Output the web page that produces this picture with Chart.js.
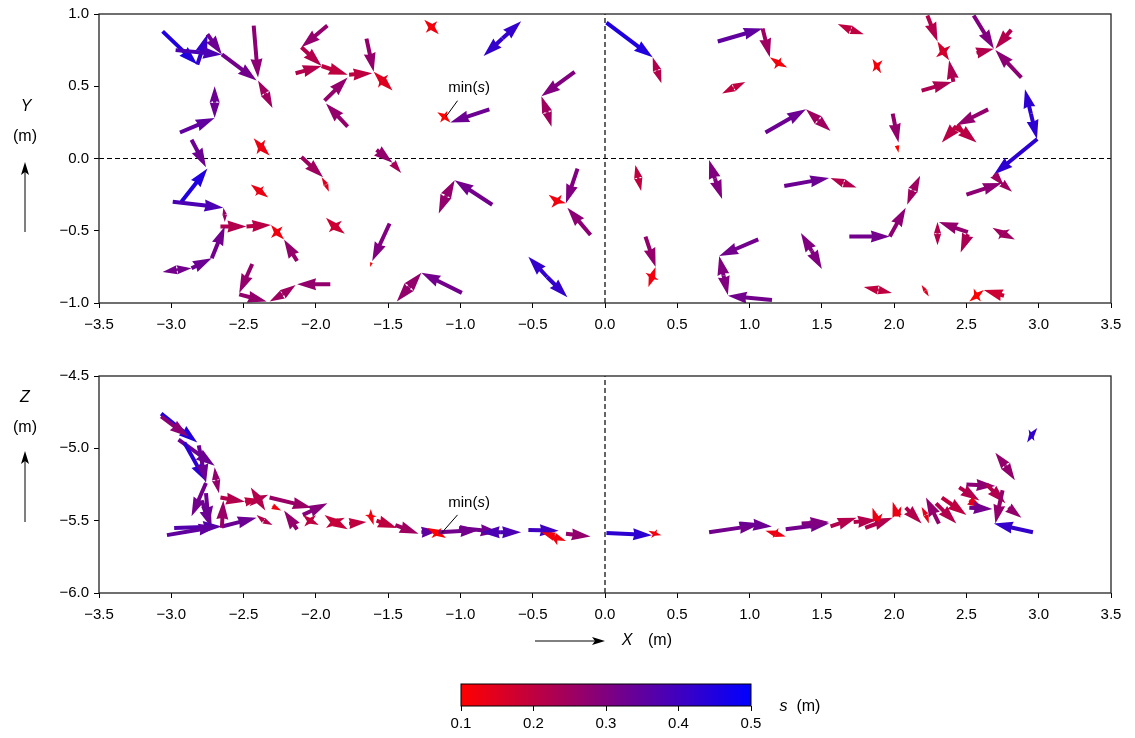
<!DOCTYPE html>
<html>
<head>
<meta charset="utf-8">
<script src="https://cdn.jsdelivr.net/npm/chart.js@4.4.1/dist/chart.umd.min.js"></script>
<style>
  html, body { margin: 0; padding: 0; background: #fff; }
  #wrap { position: relative; width: 1135px; height: 738px; }
  canvas { position: absolute; left: 0; }
</style>
</head>
<body>
<div id="wrap">
  <canvas id="topChart" width="1135" height="345" style="top:0px"></canvas>
  <canvas id="sideChart" width="1135" height="315" style="top:345px"></canvas>
  <canvas id="barChart" width="1135" height="78" style="top:660px"></canvas>
</div>
<script>
// axis ranges and tick steps
const xRange = [-3.5, 3.5];
const yRange = [-1.0, 1.0];
const zRange = [-6.0, -4.5];
const tickStep = 0.5;
const sRange = [0.1, 0.5];
const sStep = 0.1;
const cmapLow = [255, 0, 0];
const cmapHigh = [0, 0, 255];

// arrows in plan view: [x tail, y tail, x tip, y tip, s]
const planArrowsLeft = [
  [-3.06,0.88,-2.82,0.65,0.45], [-2.82,0.65,-2.75,0.86,0.42], [-2.97,0.75,-2.65,0.72,0.38],
  [-2.75,0.86,-2.65,0.72,0.33], [-2.65,0.72,-2.41,0.54,0.32], [-2.43,0.92,-2.40,0.56,0.28],
  [-2.35,0.45,-2.40,0.54,0.25], [-2.35,0.45,-2.30,0.35,0.25], [-2.70,0.39,-2.70,0.50,0.33],
  [-2.70,0.39,-2.70,0.28,0.33], [-2.94,0.18,-2.70,0.28,0.35], [-2.86,0.13,-2.76,-0.06,0.33],
  [-2.38,0.08,-2.43,0.14,0.13], [-2.38,0.08,-2.32,0.02,0.13], [-2.38,0.08,-2.41,0.03,0.13],
  [-2.38,0.08,-2.35,0.13,0.13], [-1.92,0.92,-2.10,0.77,0.27], [-2.10,0.77,-1.96,0.64,0.22],
  [-2.14,0.59,-1.96,0.64,0.22], [-1.96,0.64,-1.78,0.58,0.20], [-1.94,0.40,-1.78,0.56,0.27],
  [-1.78,0.22,-1.93,0.38,0.27], [-1.77,0.58,-1.61,0.59,0.20], [-1.65,0.83,-1.60,0.60,0.27],
  [-1.54,0.54,-1.60,0.60,0.15], [-1.54,0.54,-1.47,0.47,0.15], [-1.54,0.54,-1.50,0.58,0.15],
  [-1.54,0.54,-1.57,0.49,0.15], [-1.20,0.91,-1.25,0.96,0.12], [-1.20,0.91,-1.15,0.86,0.12],
  [-1.20,0.91,-1.16,0.95,0.12], [-1.20,0.91,-1.24,0.87,0.12], [-0.71,0.83,-0.84,0.71,0.42],
  [-0.71,0.83,-0.58,0.95,0.42], [-1.11,0.29,-1.16,0.32,0.10], [-1.11,0.29,-1.07,0.25,0.10],
  [-1.11,0.29,-1.09,0.33,0.10], [-1.11,0.29,-1.14,0.25,0.10], [-0.80,0.34,-1.07,0.25,0.33],
  [-0.21,0.60,-0.44,0.43,0.30], [-0.40,0.32,-0.44,0.43,0.25], [-0.40,0.32,-0.37,0.22,0.25],
  [-2.93,-0.30,-2.75,-0.07,0.45], [-2.99,-0.30,-2.64,-0.34,0.38], [-2.63,-0.39,-2.64,-0.34,0.26],
  [-2.63,-0.39,-2.63,-0.44,0.26], [-2.66,-0.47,-2.48,-0.47,0.22], [-2.48,-0.47,-2.31,-0.46,0.21],
  [-2.27,-0.51,-2.31,-0.46,0.12], [-2.27,-0.51,-2.22,-0.56,0.12], [-2.27,-0.51,-2.23,-0.47,0.12],
  [-2.27,-0.51,-2.31,-0.55,0.12], [-2.13,-0.71,-2.22,-0.56,0.27], [-2.72,-0.69,-2.63,-0.47,0.32],
  [-2.86,-0.76,-2.72,-0.69,0.33], [-2.96,-0.77,-3.06,-0.785,0.32], [-2.96,-0.77,-2.86,-0.76,0.32],
  [-2.39,-0.225,-2.45,-0.18,0.13], [-2.39,-0.225,-2.33,-0.27,0.13], [-2.39,-0.225,-2.36,-0.19,0.13],
  [-2.39,-0.225,-2.42,-0.26,0.13], [-2.10,0.01,-1.95,-0.13,0.25], [-1.93,-0.18,-1.96,-0.13,0.15],
  [-1.93,-0.18,-1.91,-0.23,0.15], [-1.87,-0.47,-1.80,-0.52,0.18], [-1.87,-0.47,-1.93,-0.41,0.18],
  [-1.87,-0.47,-1.82,-0.43,0.18], [-1.87,-0.47,-1.91,-0.51,0.18], [-2.44,-0.73,-2.53,-0.93,0.27],
  [-2.53,-0.94,-2.34,-0.99,0.27], [-2.23,-0.94,-2.32,-0.99,0.25], [-2.23,-0.94,-2.14,-0.875,0.25],
  [-1.90,-0.87,-2.13,-0.87,0.27], [-1.58,0.06,-1.47,-0.03,0.27], [-1.47,-0.03,-1.41,-0.10,0.24],
  [-0.78,-0.32,-1.04,-0.15,0.32], [-1.10,-0.26,-1.04,-0.15,0.27], [-1.10,-0.26,-1.15,-0.38,0.27],
  [-1.49,-0.45,-1.61,-0.71,0.30], [-1.615,-0.72,-1.625,-0.75,0.10], [-0.19,-0.07,-0.27,-0.31,0.30],
  [-0.33,-0.295,-0.39,-0.25,0.12], [-0.33,-0.295,-0.27,-0.31,0.12], [-0.33,-0.295,-0.30,-0.25,0.12],
  [-0.33,-0.295,-0.37,-0.34,0.12], [-0.10,-0.53,-0.26,-0.34,0.28], [-0.99,-0.93,-1.27,-0.79,0.32],
  [-1.355,-0.89,-1.27,-0.79,0.27], [-1.355,-0.89,-1.44,-0.99,0.27], [-0.40,-0.82,-0.53,-0.68,0.42],
  [-0.40,-0.82,-0.26,-0.96,0.42]
];
const planArrowsRight = [
  [0.01,0.94,0.33,0.70,0.45], [0.36,0.61,0.33,0.70,0.22], [0.36,0.61,0.39,0.52,0.22],
  [0.78,0.81,1.09,0.90,0.35], [1.09,0.90,1.14,0.70,0.25], [1.20,0.66,1.14,0.70,0.12],
  [1.20,0.66,1.26,0.63,0.12], [1.20,0.66,1.22,0.70,0.12], [1.20,0.66,1.17,0.62,0.12],
  [0.89,0.49,0.81,0.45,0.20], [0.89,0.49,0.97,0.53,0.20], [1.70,0.89,1.61,0.93,0.20],
  [1.70,0.89,1.79,0.86,0.20], [1.11,0.18,1.39,0.34,0.33], [1.475,0.265,1.39,0.34,0.25],
  [1.475,0.265,1.56,0.19,0.25], [1.88,0.64,1.85,0.69,0.12], [1.88,0.64,1.91,0.59,0.12],
  [1.88,0.64,1.92,0.68,0.12], [1.88,0.64,1.85,0.60,0.12], [2.23,0.99,2.30,0.81,0.22],
  [2.34,0.74,2.30,0.81,0.17], [2.34,0.74,2.38,0.68,0.17], [2.34,0.74,2.39,0.78,0.17],
  [2.34,0.74,2.29,0.70,0.17], [2.19,0.47,2.40,0.53,0.23], [2.41,0.53,2.38,0.68,0.23],
  [2.55,0.99,2.69,0.76,0.30], [2.81,0.89,2.70,0.76,0.22], [2.57,0.73,2.69,0.76,0.22],
  [2.88,0.56,2.70,0.75,0.28], [2.946,0.31,2.905,0.48,0.43], [2.946,0.31,2.988,0.135,0.43],
  [2.99,0.135,2.69,-0.11,0.43], [2.65,0.34,2.43,0.23,0.27], [2.43,0.225,2.33,0.11,0.21],
  [2.43,0.225,2.57,0.11,0.21], [2.43,0.225,2.50,0.16,0.20], [1.99,0.31,2.03,0.11,0.27],
  [2.02,0.09,2.03,0.04,0.10],
  [0.23,-0.135,0.21,-0.045,0.20], [0.23,-0.135,0.25,-0.225,0.20], [0.76,-0.14,0.72,-0.01,0.30],
  [0.76,-0.14,0.81,-0.28,0.30], [1.24,-0.19,1.55,-0.135,0.33], [1.65,-0.17,1.56,-0.135,0.22],
  [1.65,-0.17,1.74,-0.20,0.22], [0.28,-0.54,0.35,-0.75,0.27], [0.325,-0.82,0.35,-0.75,0.12],
  [0.325,-0.82,0.30,-0.89,0.12], [0.325,-0.82,0.37,-0.84,0.12], [0.325,-0.82,0.28,-0.79,0.12],
  [1.06,-0.56,0.79,-0.675,0.32], [0.82,-0.81,0.79,-0.675,0.30], [0.82,-0.81,0.85,-0.945,0.30],
  [1.155,-0.98,0.85,-0.95,0.32], [1.43,-0.64,1.355,-0.516,0.30], [1.43,-0.64,1.50,-0.765,0.30],
  [1.69,-0.54,1.97,-0.54,0.32], [1.97,-0.54,2.08,-0.34,0.28], [2.13,-0.22,2.09,-0.32,0.25],
  [2.13,-0.22,2.18,-0.12,0.25], [2.50,-0.25,2.745,-0.17,0.28], [2.69,-0.11,2.76,-0.19,0.25],
  [2.745,-0.17,2.815,-0.23,0.25], [2.30,-0.52,2.30,-0.44,0.22], [2.30,-0.52,2.30,-0.60,0.22],
  [2.51,-0.51,2.31,-0.44,0.27], [2.51,-0.525,2.46,-0.65,0.23], [2.75,-0.52,2.68,-0.48,0.25],
  [2.75,-0.52,2.835,-0.56,0.25], [2.75,-0.52,2.72,-0.56,0.25], [2.75,-0.52,2.80,-0.49,0.25],
  [1.89,-0.91,1.79,-0.89,0.20], [1.89,-0.91,1.985,-0.93,0.20], [2.215,-0.915,2.19,-0.875,0.15],
  [2.215,-0.915,2.24,-0.955,0.15], [2.57,-0.95,2.52,-0.99,0.10], [2.57,-0.95,2.62,-0.91,0.10],
  [2.57,-0.95,2.55,-0.90,0.10], [2.57,-0.95,2.60,-0.99,0.10], [2.76,-0.95,2.62,-0.91,0.18]
];

// arrows in side view: [x tail, z tail, x tip, z tip, s]
const sideArrowsLeft = [
  [-3.07,-4.76,-2.82,-4.96,0.45], [-3.07,-4.78,-2.88,-4.92,0.28], [-2.95,-4.94,-2.70,-5.12,0.33],
  [-2.91,-4.96,-2.76,-5.23,0.43], [-2.81,-4.98,-2.76,-5.24,0.33], [-2.69,-5.22,-2.70,-5.13,0.27],
  [-2.69,-5.22,-2.67,-5.31,0.27], [-2.76,-5.24,-2.86,-5.47,0.32], [-2.79,-5.36,-2.72,-5.55,0.33],
  [-2.76,-5.31,-2.74,-5.53,0.33], [-2.98,-5.55,-2.65,-5.54,0.37], [-3.03,-5.60,-2.68,-5.54,0.35],
  [-2.65,-5.54,-2.41,-5.48,0.33], [-2.65,-5.55,-2.64,-5.36,0.26], [-2.66,-5.34,-2.49,-5.37,0.22],
  [-2.49,-5.37,-2.39,-5.35,0.20], [-2.40,-5.35,-2.45,-5.27,0.22], [-2.40,-5.35,-2.35,-5.43,0.22],
  [-2.40,-5.35,-2.33,-5.32,0.22], [-2.40,-5.35,-2.46,-5.40,0.22], [-2.30,-5.40,-2.24,-5.43,0.12],
  [-2.36,-5.50,-2.41,-5.46,0.22], [-2.36,-5.50,-2.30,-5.53,0.22], [-2.32,-5.34,-2.03,-5.41,0.26],
  [-2.13,-5.56,-2.22,-5.43,0.27], [-2.09,-5.46,-1.92,-5.38,0.29], [-2.04,-5.50,-2.09,-5.46,0.20],
  [-2.04,-5.50,-1.98,-5.53,0.20], [-2.04,-5.50,-2.00,-5.46,0.20], [-2.04,-5.50,-2.08,-5.54,0.20],
  [-1.87,-5.51,-1.94,-5.46,0.19], [-1.87,-5.51,-1.78,-5.56,0.19], [-1.87,-5.51,-1.80,-5.48,0.19],
  [-1.87,-5.51,-1.93,-5.55,0.19], [-1.77,-5.52,-1.65,-5.51,0.20], [-1.62,-5.47,-1.62,-5.42,0.12],
  [-1.62,-5.47,-1.60,-5.53,0.12], [-1.62,-5.47,-1.58,-5.47,0.12], [-1.62,-5.47,-1.66,-5.46,0.12],
  [-1.58,-5.50,-1.44,-5.55,0.20], [-1.45,-5.53,-1.29,-5.59,0.25], [-1.27,-5.58,-1.15,-5.57,0.35],
  [-1.16,-5.585,-1.23,-5.55,0.10], [-1.16,-5.585,-1.10,-5.62,0.10], [-1.16,-5.585,-1.13,-5.55,0.10],
  [-1.16,-5.585,-1.20,-5.62,0.10], [-1.15,-5.58,-0.87,-5.565,0.32], [-1.01,-5.55,-0.73,-5.58,0.32],
  [-0.72,-5.58,-0.86,-5.58,0.38], [-0.72,-5.58,-0.58,-5.58,0.38], [-0.53,-5.565,-0.32,-5.57,0.40],
  [-0.35,-5.61,-0.44,-5.58,0.12], [-0.35,-5.61,-0.27,-5.64,0.12], [-0.35,-5.61,-0.33,-5.67,0.12],
  [-0.35,-5.61,-0.39,-5.58,0.12], [-0.27,-5.59,-0.10,-5.61,0.27]
];
const sideArrowsRight = [
  [0.01,-5.585,0.325,-5.60,0.43], [0.345,-5.59,0.30,-5.57,0.12], [0.345,-5.59,0.39,-5.60,0.12],
  [0.345,-5.59,0.36,-5.56,0.12], [0.345,-5.59,0.32,-5.62,0.12], [0.72,-5.58,1.06,-5.53,0.32],
  [0.93,-5.52,1.155,-5.54,0.33], [1.18,-5.59,1.11,-5.57,0.13], [1.18,-5.59,1.25,-5.61,0.13],
  [1.18,-5.59,1.20,-5.55,0.13], [1.18,-5.59,1.16,-5.62,0.13], [1.25,-5.56,1.55,-5.52,0.32],
  [1.36,-5.52,1.55,-5.51,0.30], [1.56,-5.54,1.74,-5.48,0.22], [1.72,-5.51,1.88,-5.495,0.22],
  [1.80,-5.55,1.99,-5.48,0.22], [1.88,-5.50,1.85,-5.41,0.13], [1.88,-5.50,1.92,-5.45,0.13],
  [2.02,-5.47,1.99,-5.37,0.13], [2.02,-5.47,2.05,-5.40,0.13], [2.08,-5.41,2.19,-5.52,0.22],
  [2.22,-5.46,2.19,-5.405,0.14], [2.22,-5.46,2.24,-5.52,0.14], [2.31,-5.52,2.22,-5.34,0.27],
  [2.29,-5.38,2.43,-5.52,0.22], [2.33,-5.34,2.50,-5.46,0.20], [2.45,-5.27,2.59,-5.36,0.22],
  [2.50,-5.25,2.70,-5.26,0.28], [2.52,-5.36,2.61,-5.41,0.15], [2.52,-5.41,2.68,-5.42,0.32],
  [2.64,-5.25,2.77,-5.38,0.22], [2.77,-5.12,2.70,-5.03,0.27], [2.77,-5.12,2.835,-5.22,0.27],
  [2.75,-5.29,2.70,-5.52,0.27], [2.79,-5.41,2.88,-5.48,0.27], [2.96,-5.58,2.69,-5.52,0.42],
  [2.95,-4.91,2.92,-4.96,0.42], [2.95,-4.91,2.99,-4.86,0.42], [2.95,-4.91,2.97,-4.95,0.42],
  [2.95,-4.91,2.93,-4.87,0.42]
];

// "min(s)" note: [label x, label y, leader start x, y, leader end x, y]
const minNotePlan = [-0.94, 0.49, -1.02, 0.40, -1.10, 0.29];
const minNoteSide = [-0.94, -5.378, -1.02, -5.46, -1.13, -5.585];

const FONT = '"Liberation Sans", Arial, sans-serif';

function sColor(s) {
  let t = (s - sRange[0]) / (sRange[1] - sRange[0]);
  t = Math.min(1, Math.max(0, t));
  const c = cmapLow.map((v, i) => Math.round(v + (cmapHigh[i] - v) * t));
  return 'rgb(' + c[0] + ',' + c[1] + ',' + c[2] + ')';
}

function fmt(v) {
  if (Math.abs(v) < 1e-9) return '0.0';
  return (v < 0 ? '\u2212' : '') + Math.abs(v).toFixed(1);
}

function arrowSets(list) {
  return list.map(a => ({
    arrow: true,
    arrowColor: sColor(a[4]),
    data: [{ x: a[0], y: a[1] }, { x: a[2], y: a[3] }],
    showLine: false,
    pointRadius: 0,
    pointHoverRadius: 0
  }));
}

function dashed(x0, y0, x1, y1) {
  return {
    data: [{ x: x0, y: y0 }, { x: x1, y: y1 }],
    showLine: true,
    borderColor: '#000',
    borderWidth: 1.2,
    borderDash: [5, 3],
    pointRadius: 0,
    pointHoverRadius: 0
  };
}

// quiver-like arrow polygon; short arrows are shrunk as a whole
function drawArrow(ctx, x0, y0, x1, y1, color) {
  const dx = x1 - x0, dy = y1 - y0;
  const L = Math.hypot(dx, dy);
  if (L < 0.5) return;
  const W = 4, HW = 12, HL = 19, HAL = 18;
  let k = 1, len = L;
  if (L < HL) { k = L / HL; len = HL; }
  ctx.save();
  ctx.translate(x0, y0);
  ctx.rotate(Math.atan2(dy, dx));
  ctx.scale(k, k);
  ctx.beginPath();
  ctx.moveTo(0, -W / 2);
  ctx.lineTo(len - HAL, -W / 2);
  ctx.lineTo(len - HL, -HW / 2);
  ctx.lineTo(len, 0);
  ctx.lineTo(len - HL, HW / 2);
  ctx.lineTo(len - HAL, W / 2);
  ctx.lineTo(0, W / 2);
  ctx.closePath();
  ctx.fillStyle = color;
  ctx.fill();
  ctx.restore();
}

function drawPointer(ctx, x0, y0, x1, y1) {
  const a = Math.atan2(y1 - y0, x1 - x0);
  ctx.save();
  ctx.strokeStyle = '#000';
  ctx.fillStyle = '#000';
  ctx.lineWidth = 1;
  ctx.beginPath();
  ctx.moveTo(x0, y0);
  ctx.lineTo(x1 - 8 * Math.cos(a), y1 - 8 * Math.sin(a));
  ctx.stroke();
  ctx.translate(x1, y1);
  ctx.rotate(a);
  ctx.beginPath();
  ctx.moveTo(0, 0);
  ctx.lineTo(-13, -4);
  ctx.lineTo(-10, 0);
  ctx.lineTo(-13, 4);
  ctx.closePath();
  ctx.fill();
  ctx.restore();
}

// parts: [[text, italic], ...], centred at (x, y)
function drawParts(ctx, parts, x, y, size) {
  ctx.save();
  ctx.fillStyle = '#000';
  ctx.textBaseline = 'middle';
  ctx.textAlign = 'left';
  let w = 0;
  parts.forEach(p => {
    ctx.font = (p[1] ? 'italic ' : '') + size + 'px ' + FONT;
    w += ctx.measureText(p[0]).width;
  });
  let cx = x - w / 2;
  parts.forEach(p => {
    ctx.font = (p[1] ? 'italic ' : '') + size + 'px ' + FONT;
    ctx.fillText(p[0], cx, y);
    cx += ctx.measureText(p[0]).width;
  });
  ctx.restore();
}

const quiverPlugin = {
  id: 'quiver',
  afterDatasetsDraw(chart) {
    const ctx = chart.ctx, area = chart.chartArea;
    ctx.save();
    ctx.beginPath();
    ctx.rect(area.left, area.top, area.right - area.left, area.bottom - area.top);
    ctx.clip();
    chart.data.datasets.forEach((ds, i) => {
      if (!ds.arrow) return;
      const pts = chart.getDatasetMeta(i).data;
      drawArrow(ctx, pts[0].x, pts[0].y, pts[1].x, pts[1].y, ds.arrowColor);
    });
    ctx.restore();
  }
};

const framePlugin = {
  id: 'frame',
  afterDraw(chart) {
    const a = chart.chartArea, ctx = chart.ctx;
    ctx.save();
    ctx.strokeStyle = '#222';
    ctx.lineWidth = 1.3;
    ctx.strokeRect(a.left, a.top, a.right - a.left, a.bottom - a.top);
    ctx.restore();
  }
};

const notePlugin = {
  id: 'note',
  afterDraw(chart, args, opts) {
    const ctx = chart.ctx;
    if (opts.minNote) {
      const n = opts.minNote, sx = chart.scales.x, sy = chart.scales.y;
      drawParts(ctx, [['min(', false], ['s', true], [')', false]],
        sx.getPixelForValue(n[0]), sy.getPixelForValue(n[1]), 15);
      ctx.save();
      ctx.strokeStyle = '#000';
      ctx.lineWidth = 1;
      ctx.beginPath();
      ctx.moveTo(sx.getPixelForValue(n[2]), sy.getPixelForValue(n[3]));
      ctx.lineTo(sx.getPixelForValue(n[4]), sy.getPixelForValue(n[5]));
      ctx.stroke();
      ctx.restore();
    }
    (opts.labels || []).forEach(l => drawParts(ctx, l.parts, l.x, l.y, 16));
    (opts.pointers || []).forEach(p => drawPointer(ctx, p[0], p[1], p[2], p[3]));
  }
};

function linScale(range, step, size, horizontal, pad) {
  return {
    type: 'linear',
    min: range[0],
    max: range[1],
    grid: { display: true, drawOnChartArea: false, drawTicks: true, tickLength: 5, color: '#000', lineWidth: 1 },
    border: { display: false },
    ticks: {
      stepSize: step, autoSkip: false, maxRotation: 0, padding: pad,
      color: '#000', font: { family: FONT, size: 15 },
      callback: v => fmt(v)
    },
    afterFit: s => {
      if (horizontal) s.height = size; else s.width = size;
      s.paddingLeft = 0; s.paddingRight = 0; s.paddingTop = 0; s.paddingBottom = 0;
    }
  };
}

function baseOptions(padding, yRangeUsed, xHeight, noteOpts) {
  return {
    responsive: false,
    animation: false,
    events: [],
    layout: { padding: padding },
    plugins: { legend: { display: false }, tooltip: { enabled: false }, note: noteOpts },
    scales: {
      x: linScale(xRange, tickStep, xHeight, true, 8),
      y: linScale(yRangeUsed, tickStep, 99, false, 5)
    }
  };
}

// plan view (X, Y)
new Chart(document.getElementById('topChart'), {
  type: 'scatter',
  data: {
    datasets: [dashed(xRange[0], 0, xRange[1], 0), dashed(0, yRange[0], 0, yRange[1])]
      .concat(arrowSets(planArrowsLeft), arrowSets(planArrowsRight))
  },
  options: baseOptions({ left: 0, right: 24, top: 14, bottom: 0 }, yRange, 42, {
    minNote: minNotePlan,
    labels: [
      { parts: [['Y', true]], x: 26, y: 107 },
      { parts: [['(m)', false]], x: 25, y: 137 }
    ],
    pointers: [[25, 232, 25, 162]]
  }),
  plugins: [quiverPlugin, framePlugin, notePlugin]
});

// side view (X, Z)
new Chart(document.getElementById('sideChart'), {
  type: 'scatter',
  data: {
    datasets: [dashed(0, zRange[0], 0, zRange[1])]
      .concat(arrowSets(sideArrowsLeft), arrowSets(sideArrowsRight))
  },
  options: baseOptions({ left: 0, right: 24, top: 31, bottom: 0 }, zRange, 67, {
    minNote: minNoteSide,
    labels: [
      { parts: [['Z', true]], x: 25, y: 53 },
      { parts: [['(m)', false]], x: 25, y: 83 },
      { parts: [['X', true]], x: 627, y: 296 },
      { parts: [['(m)', false]], x: 660, y: 296 }
    ],
    pointers: [[25, 177, 25, 106], [535, 296, 605, 296]]
  }),
  plugins: [quiverPlugin, framePlugin, notePlugin]
});

// colour bar
const cbarPlugin = {
  id: 'cbar',
  beforeDatasetsDraw(chart) {
    const ctx = chart.ctx, a = chart.chartArea, sx = chart.scales.x;
    const x0 = sx.getPixelForValue(sRange[0]), x1 = sx.getPixelForValue(sRange[1]);
    const g = ctx.createLinearGradient(x0, 0, x1, 0);
    g.addColorStop(0, sColor(sRange[0]));
    g.addColorStop(0.5, sColor((sRange[0] + sRange[1]) / 2));
    g.addColorStop(1, sColor(sRange[1]));
    ctx.save();
    ctx.fillStyle = g;
    ctx.fillRect(x0, a.top, x1 - x0, a.bottom - a.top);
    ctx.strokeStyle = '#000';
    ctx.lineWidth = 1;
    ctx.strokeRect(x0, a.top, x1 - x0, a.bottom - a.top);
    ctx.restore();
    drawParts(ctx, [['s', true], ['  (m)', false]], 800, a.bottom + 1, 16);
  }
};

new Chart(document.getElementById('barChart'), {
  type: 'scatter',
  data: { datasets: [{ data: [] }] },
  options: {
    responsive: false,
    animation: false,
    events: [],
    layout: { padding: { left: 461, right: 384, top: 24, bottom: 0 } },
    plugins: { legend: { display: false }, tooltip: { enabled: false } },
    scales: {
      x: linScale(sRange, sStep, 32, true, 4),
      y: { display: false, min: 0, max: 1 }
    }
  },
  plugins: [cbarPlugin]
});
</script>
</body>
</html>
